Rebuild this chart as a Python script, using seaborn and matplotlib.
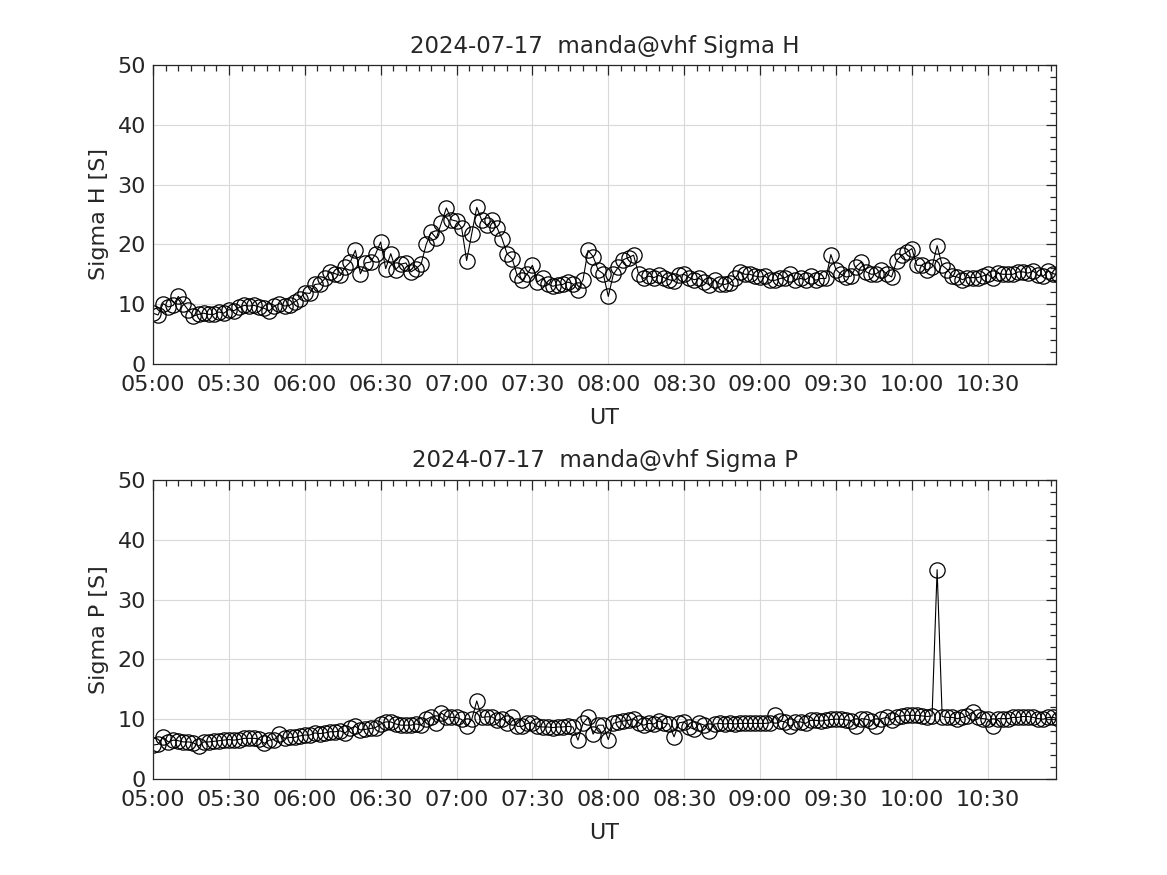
import numpy as np
import pandas as pd
import matplotlib
matplotlib.use("Agg")
import matplotlib.pyplot as plt
import matplotlib.dates as mdates
import seaborn as sns

# ---- data ----
date_label = "2024-07-17"
station = "manda@vhf"
start_time = "2024-07-17 05:00"
end_time = "2024-07-17 10:57"

sigma_h = [
    8.5, 8.2, 10.1, 9.55, 9.8, 11.3, 10.1, 9.0, 8.05, 8.3,
    8.5, 8.3, 8.3, 8.7, 8.5, 9.1, 8.9, 9.45, 9.8, 9.7,
    9.8, 9.55, 9.3, 8.9, 9.7, 10.1, 9.7, 9.8, 10.4, 10.95,
    11.9, 11.8, 13.3, 13.4, 14.3, 15.4, 15.1, 14.8, 16.2, 17.05,
    19.0, 15.1, 16.9, 17.05, 18.4, 20.4, 15.95, 18.45, 15.8, 16.7,
    16.9, 15.4, 15.95, 16.7, 20.0, 22.05, 21.05, 23.56, 26.1, 24.1,
    23.9, 22.8, 17.3, 21.8, 26.2, 24.0, 23.2, 24.0, 22.8, 20.95,
    18.4, 17.6, 14.8, 14.0, 15.1, 16.5, 13.7, 14.3, 13.4, 13.0,
    13.2, 13.3, 13.7, 13.4, 12.4, 14.1, 19.0, 17.97, 15.7, 15.1,
    11.3, 15.0, 16.2, 17.45, 17.8, 18.2, 15.0, 14.3, 14.7, 14.45,
    14.8, 14.45, 14.1, 13.9, 14.8, 15.0, 14.45, 14.1, 14.3, 13.7,
    13.2, 14.1, 13.4, 13.3, 13.55, 14.3, 15.4, 15.0, 15.0, 14.7,
    14.55, 14.7, 14.0, 14.0, 14.3, 14.45, 15.0, 14.1, 14.3, 14.1,
    14.7, 14.0, 14.3, 14.3, 18.3, 15.8, 15.0, 14.55, 14.7, 16.3,
    17.05, 15.4, 15.0, 15.1, 15.8, 15.1, 14.55, 17.3, 18.2, 18.7,
    19.3, 16.5, 16.5, 15.7, 16.2, 19.8, 16.5, 15.8, 14.7, 14.55,
    14.1, 14.45, 14.45, 14.45, 14.7, 15.0, 14.3, 15.2, 15.0, 15.0,
    15.0, 15.4, 15.4, 15.2, 15.55, 14.8, 14.7, 15.55, 15.1, 14.8,
]

sigma_p = [
    5.67, 5.8, 7.05, 6.2, 6.5, 6.4, 6.2, 6.2, 6.05, 5.5,
    6.2, 6.2, 6.3, 6.4, 6.5, 6.6, 6.5, 6.6, 6.8, 6.8,
    6.8, 6.7, 5.95, 6.5, 6.6, 7.5, 6.8, 6.95, 6.95, 7.2,
    7.35, 7.35, 7.7, 7.6, 7.7, 7.9, 7.9, 8.05, 7.7, 8.45,
    8.8, 8.2, 8.3, 8.45, 8.6, 9.2, 9.55, 9.55, 9.2, 9.0,
    9.0, 9.0, 9.2, 9.0, 9.95, 10.4, 9.4, 11.05, 10.4, 10.3,
    10.3, 9.95, 8.8, 9.95, 13.05, 10.3, 10.4, 10.4, 9.8, 10.1,
    9.4, 10.3, 8.8, 8.8, 9.3, 9.4, 8.8, 8.7, 8.7, 8.6,
    8.7, 8.7, 8.8, 8.7, 6.5, 9.3, 10.3, 7.5, 9.0, 9.0,
    6.6, 9.3, 9.55, 9.7, 9.8, 10.1, 9.4, 9.0, 9.3, 9.2,
    9.7, 9.3, 9.2, 7.05, 9.4, 9.55, 8.7, 8.3, 9.3, 9.0,
    8.05, 9.2, 9.3, 9.2, 9.3, 9.2, 9.3, 9.3, 9.3, 9.3,
    9.3, 9.3, 9.4, 10.65, 9.7, 9.55, 8.8, 9.55, 9.55, 9.3,
    9.8, 9.8, 9.7, 9.8, 9.95, 10.0, 10.0, 9.9, 9.75, 8.8,
    10.1, 10.0, 9.75, 8.8, 10.1, 10.3, 9.9, 10.45, 10.55, 10.65,
    10.65, 10.65, 10.55, 10.45, 10.55, 35.0, 10.45, 10.3, 10.3, 10.1,
    10.3, 10.55, 11.2, 10.3, 10.1, 10.0, 8.9, 10.1, 10.1, 10.1,
    10.3, 10.3, 10.45, 10.45, 10.3, 10.1, 10.0, 10.3, 10.3, 10.0,
]

panel_titles = [f"{date_label}  {station} Sigma H", f"{date_label}  {station} Sigma P"]
y_labels = ["Sigma H [S]", "Sigma P [S]"]
x_label = "UT"

times = pd.date_range(start_time, periods=len(sigma_h), freq="2min")

sns.set_theme(style="white")
plt.rcParams["font.family"] = ["DejaVu Sans"]
text_color = "#262626"

fig = plt.figure(figsize=(11.67, 8.75), dpi=100)
W, H = 1167, 875
left, right = 153 / W, 1056 / W
ax_h = 299 / H
axes = [
    fig.add_axes([left, 1 - 364 / H, right - left, ax_h]),
    fig.add_axes([left, 1 - 779 / H, right - left, ax_h]),
]

series = [sigma_h, sigma_p]
for ax, vals, title, ylab in zip(axes, series, panel_titles, y_labels):
    df = pd.DataFrame({"time": times, "value": vals})
    sns.lineplot(data=df, x="time", y="value", ax=ax, color="black", lw=0.8,
                 marker="o", markersize=11, markerfacecolor="none",
                 markeredgecolor="black", markeredgewidth=0.9)
    ax.set_xlim(pd.Timestamp(start_time), pd.Timestamp(end_time))
    ax.set_ylim(0, 50)
    ax.set_yticks(np.arange(0, 51, 10))
    ax.yaxis.set_minor_locator(matplotlib.ticker.MultipleLocator(2))
    ax.xaxis.set_major_locator(mdates.MinuteLocator(byminute=[0, 30]))
    ax.xaxis.set_minor_locator(mdates.MinuteLocator(byminute=range(0, 60, 5)))
    ax.xaxis.set_major_formatter(mdates.DateFormatter("%H:%M"))
    ax.grid(True, which="major", color="#d9d9d9", lw=0.8)
    ax.set_axisbelow(True)
    ax.tick_params(which="both", direction="in", top=True, right=True,
                   colors=text_color, labelsize=16, width=0.9)
    ax.tick_params(which="major", length=7)
    ax.tick_params(which="minor", length=4)
    ax.tick_params(axis="x", which="major", pad=8)
    ax.tick_params(axis="y", which="major", pad=5)
    for s in ax.spines.values():
        s.set_visible(True)
        s.set_color(text_color)
        s.set_linewidth(0.9)
    ax.set_title(title, fontsize=16.5, color=text_color, pad=9)
    ax.set_xlabel(x_label, fontsize=16, color=text_color, labelpad=9)
    ax.set_ylabel(ylab, fontsize=16, color=text_color, labelpad=6)

fig.savefig("out.png", dpi=100, facecolor="white")
